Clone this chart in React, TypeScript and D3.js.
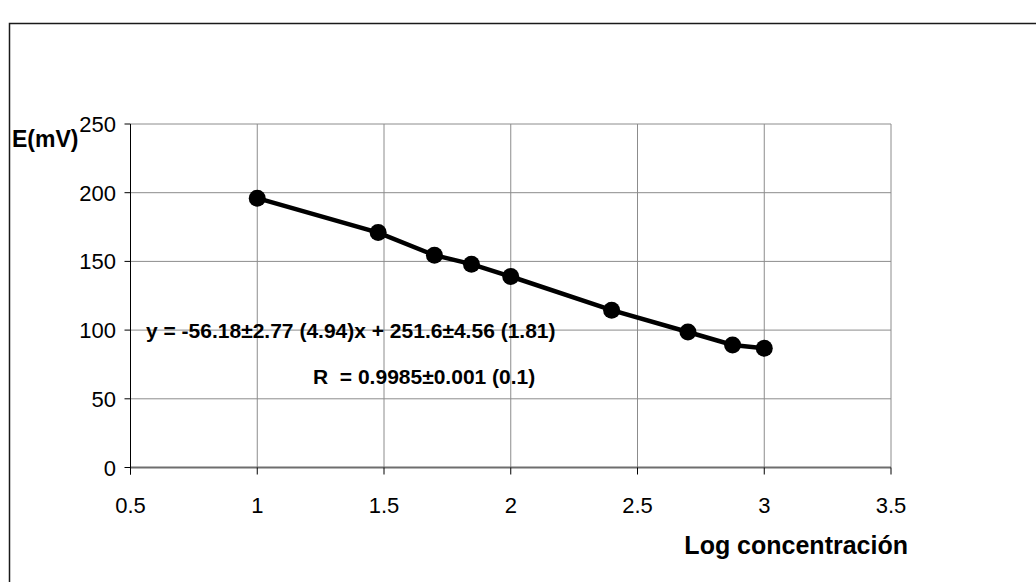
import React from "react";
import * as d3 from "d3";

const logConc = [1, 1.477, 1.699, 1.845, 2, 2.398, 2.699, 2.875, 3];
const emv = [196, 171, 154.5, 148, 139, 114.5, 98.6, 89.2, 86.8];
const xTicks = [0.5, 1, 1.5, 2, 2.5, 3, 3.5];
const yTicks = [0, 50, 100, 150, 200, 250];
const yLabel = "E(mV)";
const xLabel = "Log concentración";
const eqText = "y = -56.18±2.77 (4.94)x + 251.6±4.56 (1.81)";
const rText = "R  = 0.9985±0.001 (0.1)";

const W = 1036;
const H = 582;
const FONT = "'Liberation Sans', Arial, sans-serif";

function SText({ x, y, anchor = "start", size = 22, bold = false, children }: any) {
  return (
    <text
      x={x}
      y={y}
      textAnchor={anchor}
      fontFamily={FONT}
      fontSize={size}
      fontWeight={bold ? "bold" : "normal"}
      fill="#000"
      style={{ whiteSpace: "pre" }}
    >
      {children}
    </text>
  );
}

export default function App() {
  const x = d3.scaleLinear().domain([0.5, 3.5]).range([130.5, 891]);
  const y = d3.scaleLinear().domain([0, 250]).range([467.5, 124]);
  const pts = logConc.map((v, i) => [x(v), y(emv[i])] as [number, number]);
  const line = d3.line()(pts) || "";

  return (
    <svg
      width={W}
      height={H}
      style={{ position: "absolute", left: 0, top: 0, display: "block", background: "#fff" }}
    >
      <rect x={0} y={0} width={W} height={H} fill="#fff" />
      {/* outer chart border */}
      <rect x={9.5} y={23.5} width={W + 20} height={H + 20} fill="none" stroke="#1a1a1a" strokeWidth={1.5} />

      {/* gridlines */}
      {xTicks.map((t) => (
        <line key={"gx" + t} x1={x(t)} x2={x(t)} y1={y(250)} y2={y(0)} stroke="#8c8c8c" strokeWidth={1} />
      ))}
      {yTicks.map((t) => (
        <line key={"gy" + t} x1={x(0.5)} x2={x(3.5)} y1={y(t)} y2={y(t)} stroke="#8c8c8c" strokeWidth={1} />
      ))}

      {/* x axis */}
      <line x1={x(0.5)} x2={x(3.5)} y1={y(0)} y2={y(0)} stroke="#6e6e6e" strokeWidth={2} />
      {xTicks.map((t) => (
        <line key={"tx" + t} x1={x(t)} x2={x(t)} y1={y(0)} y2={y(0) + 7} stroke="#000" strokeWidth={1} />
      ))}
      {/* y axis */}
      <line x1={x(0.5)} x2={x(0.5)} y1={y(250)} y2={y(0) + 7} stroke="#000" strokeWidth={1} />
      {yTicks.map((t) => (
        <line key={"ty" + t} x1={x(0.5) - 6} x2={x(0.5)} y1={y(t)} y2={y(t)} stroke="#000" strokeWidth={1} />
      ))}

      {/* tick labels */}
      {yTicks.map((t) => (
        <SText key={"ly" + t} x={116} y={y(t) + 8} anchor="end">
          {String(t)}
        </SText>
      ))}
      {xTicks.map((t) => (
        <SText key={"lx" + t} x={x(t)} y={513} anchor="middle">
          {String(t)}
        </SText>
      ))}

      {/* axis titles */}
      <SText x={12} y={147} bold size={23}>
        {yLabel}
      </SText>
      <SText x={908} y={554} anchor="end" bold size={25}>
        {xLabel}
      </SText>

      {/* series */}
      <path d={line} fill="none" stroke="#000" strokeWidth={4.5} />
      {pts.map((p, i) => (
        <circle key={"p" + i} cx={p[0]} cy={p[1]} r={8.5} fill="#000" />
      ))}

      {/* equation annotations */}
      <SText x={146} y={338} bold size={21}>
        {eqText}
      </SText>
      <SText x={313} y={384} bold size={21}>
        {rText}
      </SText>
    </svg>
  );
}
